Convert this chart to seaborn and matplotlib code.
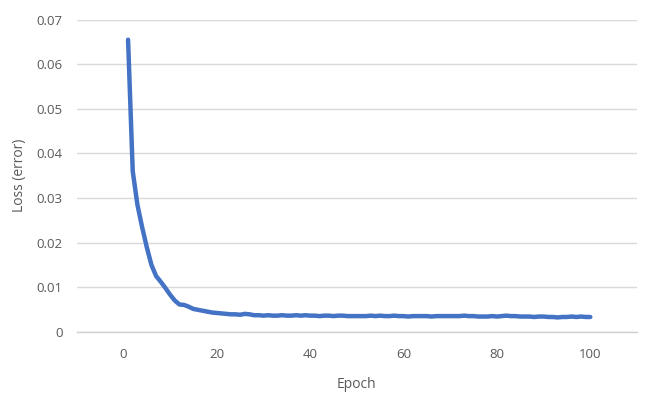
import matplotlib
matplotlib.use("Agg")
import matplotlib.pyplot as plt
import seaborn as sns
import pandas as pd

# loss per epoch
epochs = list(range(1, 101))
loss = [
    0.0655, 0.0360, 0.0285, 0.0235, 0.0190, 0.0150, 0.0125, 0.0112, 0.0098, 0.0083,
    0.0070, 0.0061, 0.0060, 0.0056, 0.0051, 0.0049, 0.0047, 0.0045, 0.0043, 0.0042,
    0.0041, 0.0040, 0.0039, 0.0039, 0.0038, 0.0040, 0.0039, 0.0037, 0.0037, 0.0036,
    0.0037, 0.0036, 0.0036, 0.0037, 0.0036, 0.0036, 0.0037, 0.0036, 0.0037, 0.0036,
    0.0036, 0.0035, 0.0036, 0.0036, 0.0035, 0.0036, 0.0036, 0.0035, 0.0035, 0.0035,
    0.0035, 0.0035, 0.0036, 0.0035, 0.0036, 0.0035, 0.0035, 0.0036, 0.0035, 0.0035,
    0.0034, 0.0035, 0.0035, 0.0035, 0.0035, 0.0034, 0.0035, 0.0035, 0.0035, 0.0035,
    0.0035, 0.0035, 0.0036, 0.0035, 0.0035, 0.0034, 0.0034, 0.0034, 0.0035, 0.0034,
    0.0035, 0.0036, 0.0035, 0.0035, 0.0034, 0.0034, 0.0034, 0.0033, 0.0034, 0.0034,
    0.0033, 0.0033, 0.0032, 0.0033, 0.0033, 0.0034, 0.0033, 0.0034, 0.0033, 0.0033,
]
y_ticks = [0, 0.01, 0.02, 0.03, 0.04, 0.05, 0.06, 0.07]
y_tick_labels = ["0", "0.01", "0.02", "0.03", "0.04", "0.05", "0.06", "0.07"]
x_ticks = [0, 20, 40, 60, 80, 100]

df = pd.DataFrame({"Epoch": epochs, "Loss": loss})

sns.set_style("white")
plt.rcParams['font.family'] = ['Open Sans', 'DejaVu Sans']

fig = plt.figure(figsize=(6.5, 4.09), dpi=100)
ax = fig.add_axes([0.118, 0.189, 0.862, 0.763])

sns.lineplot(data=df, x="Epoch", y="Loss", ax=ax, color="#4472C4", linewidth=3.2)

ax.set_xlim(-10, 110)
ax.set_ylim(0, 0.07)
ax.set_yticks(y_ticks)
ax.set_yticklabels(y_tick_labels)
ax.set_xticks(x_ticks)
ax.yaxis.grid(True, color="#d9d9d9", linewidth=1)
ax.set_axisbelow(True)
for s in ["top", "right", "left"]:
    ax.spines[s].set_visible(False)
# the zero line is drawn like the other grid lines
ax.spines["bottom"].set_color("#d0d0d0")
ax.spines["bottom"].set_linewidth(1)
ax.tick_params(axis="both", length=0, labelsize=9.5, labelcolor="#595959")
ax.tick_params(axis="x", pad=12)
ax.tick_params(axis="y", pad=10)
ax.set_xlabel("Epoch", fontsize=10, color="#595959", labelpad=11)
ax.set_ylabel("Loss (error)", fontsize=10, color="#595959", labelpad=7)

fig.savefig("out.png", dpi=100)
